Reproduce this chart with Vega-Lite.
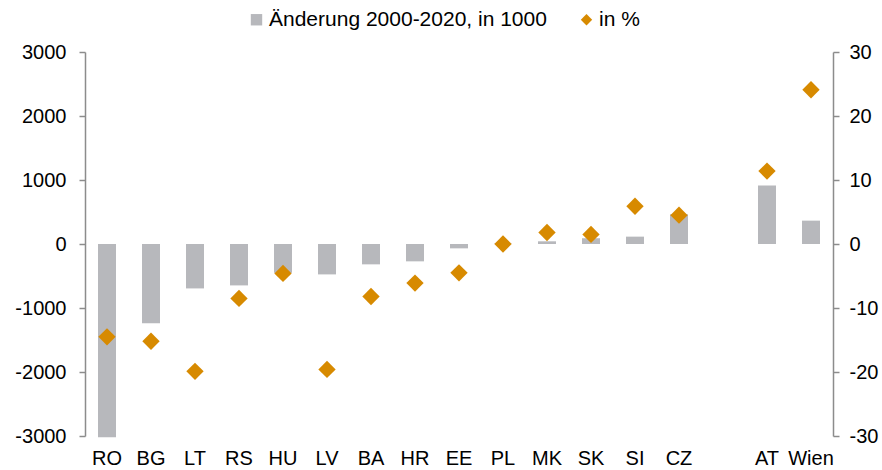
{
  "$schema": "https://vega.github.io/schema/vega-lite/v6.json",
  "width": 748,
  "height": 384,
  "autosize": {"type": "none"},
  "padding": {"left": 85, "top": 52, "right": 49, "bottom": 34},
  "background": "white",
  "config": {
    "view": {"stroke": null},
    "font": "Liberation Sans",
    "axis": {"labelFont": "Liberation Sans", "labelFontSize": 20, "labelColor": "#000000", "grid": false, "domainColor": "#8c8c8c", "tickColor": "#8c8c8c", "domainWidth": 1.5, "tickWidth": 1.5}
  },
  "data": {
    "values": [
      {"cat": "RO", "series": "Änderung 2000-2020, in 1000", "value": -3020},
      {"cat": "BG", "series": "Änderung 2000-2020, in 1000", "value": -1240},
      {"cat": "LT", "series": "Änderung 2000-2020, in 1000", "value": -694},
      {"cat": "RS", "series": "Änderung 2000-2020, in 1000", "value": -647},
      {"cat": "HU", "series": "Änderung 2000-2020, in 1000", "value": -450},
      {"cat": "LV", "series": "Änderung 2000-2020, in 1000", "value": -475},
      {"cat": "BA", "series": "Änderung 2000-2020, in 1000", "value": -318},
      {"cat": "HR", "series": "Änderung 2000-2020, in 1000", "value": -271},
      {"cat": "EE", "series": "Änderung 2000-2020, in 1000", "value": -68},
      {"cat": "PL", "series": "Änderung 2000-2020, in 1000", "value": 5},
      {"cat": "MK", "series": "Änderung 2000-2020, in 1000", "value": 42},
      {"cat": "SK", "series": "Änderung 2000-2020, in 1000", "value": 90},
      {"cat": "SI", "series": "Änderung 2000-2020, in 1000", "value": 115},
      {"cat": "CZ", "series": "Änderung 2000-2020, in 1000", "value": 464},
      {"cat": "AT", "series": "Änderung 2000-2020, in 1000", "value": 913},
      {"cat": "Wien", "series": "Änderung 2000-2020, in 1000", "value": 365},
      {"cat": "RO", "series": "in %", "value": -14.5},
      {"cat": "BG", "series": "in %", "value": -15.2},
      {"cat": "LT", "series": "in %", "value": -19.9},
      {"cat": "RS", "series": "in %", "value": -8.5},
      {"cat": "HU", "series": "in %", "value": -4.6},
      {"cat": "LV", "series": "in %", "value": -19.6},
      {"cat": "BA", "series": "in %", "value": -8.2},
      {"cat": "HR", "series": "in %", "value": -6.1},
      {"cat": "EE", "series": "in %", "value": -4.5},
      {"cat": "PL", "series": "in %", "value": 0.0},
      {"cat": "MK", "series": "in %", "value": 1.8},
      {"cat": "SK", "series": "in %", "value": 1.5},
      {"cat": "SI", "series": "in %", "value": 5.9},
      {"cat": "CZ", "series": "in %", "value": 4.5},
      {"cat": "AT", "series": "in %", "value": 11.4},
      {"cat": "Wien", "series": "in %", "value": 24.1}
    ]
  },
  "encoding": {
    "x": {
      "field": "cat",
      "type": "nominal",
      "title": null,
      "scale": {"domain": ["RO","BG","LT","RS","HU","LV","BA","HR","EE","PL","MK","SK","SI","CZ"," ","AT","Wien"], "paddingInner": 0, "paddingOuter": 0},
      "axis": {"domain": false, "ticks": false, "labelAngle": 0, "labelPadding": 12}
    }
  },
  "layer": [
    {
      "layer": [
        {
          "transform": [{"filter": "datum.series !== 'in %'"}],
          "mark": {"type": "bar", "size": 18},
          "encoding": {
            "y": {
              "field": "value",
              "type": "quantitative",
              "title": null,
              "scale": {"domain": [-3000, 3000], "nice": false, "zero": false},
              "axis": {"orient": "left", "values": [-3000,-2000,-1000,0,1000,2000,3000], "labelExpr": "'' + datum.value", "tickSize": 6, "labelPadding": 13}
            },
            "color": {
              "field": "series",
              "type": "nominal",
              "scale": {"domain": ["Änderung 2000-2020, in 1000", "in %"], "range": ["#b7b8bc", "#d78a00"]},
              "legend": {
                "title": null,
                "orient": "none",
                "direction": "horizontal",
                "legendX": 161,
                "legendY": -43,
                "labelFontSize": 21,
                "labelFont": "Liberation Sans",
                "labelColor": "#000000",
                "labelLimit": 400,
                "symbolSize": 130,
                "symbolStrokeWidth": 0,
                "labelOffset": 2,
                "columnPadding": 29
              }
            }
          }
        },
        {
          "data": {"values": [{}]},
          "mark": {"type": "rule", "color": "#8c8c8c", "strokeWidth": 1.5},
          "encoding": {"y": {"datum": 0, "type": "quantitative"}}
        }
      ]
    },
    {
      "transform": [{"filter": "datum.series === 'in %'"}],
      "mark": {"type": "point", "filled": true, "opacity": 1, "size": 300},
      "encoding": {
        "y": {
          "field": "value",
          "type": "quantitative",
          "title": null,
          "scale": {"domain": [-30, 30], "nice": false, "zero": false},
          "axis": {"orient": "right", "values": [-30,-20,-10,0,10,20,30], "labelExpr": "'' + datum.value", "tickSize": 6, "labelPadding": 10}
        },
        "color": {"field": "series", "type": "nominal"},
        "shape": {
          "field": "series",
          "type": "nominal",
          "scale": {"domain": ["Änderung 2000-2020, in 1000", "in %"], "range": ["square", "diamond"]},
          "legend": {"title": null, "orient": "none", "direction": "horizontal", "legendX": 161, "legendY": -43}
        }
      }
    }
  ],
  "resolve": {"scale": {"y": "independent"}}
}
